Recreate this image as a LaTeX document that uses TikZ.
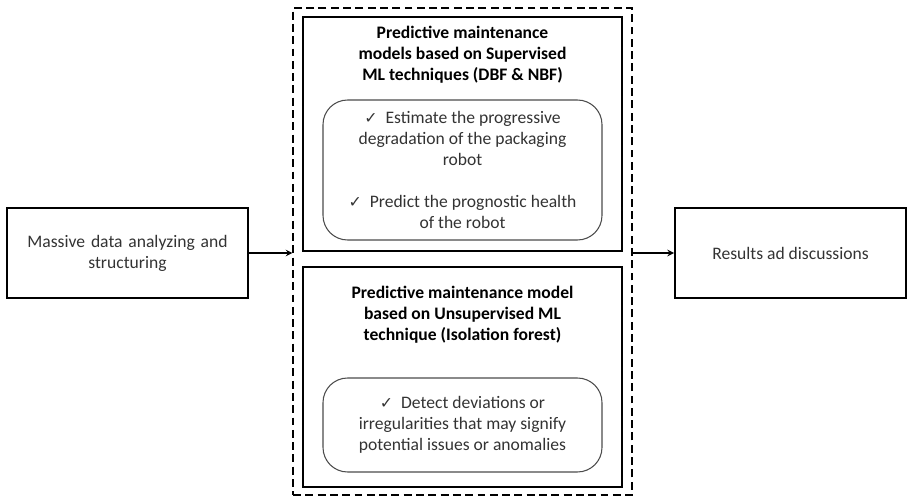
\documentclass[tikz,border=0pt]{standalone}
\usepackage{fontspec}
\setmainfont{Carlito}
\newfontfamily\simbolos{DejaVu Sans}
\usepackage{tikz}
\usetikzlibrary{positioning}
\newcommand{\visto}{{\simbolos\small ✓}}

\begin{document}
\begin{tikzpicture}[>=stealth]
\useasboundingbox (0,0) rectangle (18.18,9.92);
% Main boxes
\node (datos) [rectangle, draw, line width=1.1pt, text width=4.6cm, text centered, minimum width=4.82cm, minimum height=1.8cm, text=black!80] at (2.55,4.86)
    {Massive data analyzing and\\ structuring};

\node (resultados) [rectangle, draw, line width=1.1pt, text centered, minimum width=4.62cm, minimum height=1.8cm, text=black!80] at (15.81,4.86)
    {Results ad discussions};

% Dashed frame around the two model boxes
\node (marco) [rectangle, draw, dash pattern=on 4.5pt off 2.5pt, line width=0.6pt, minimum width=6.78cm, minimum height=9.74cm] at (9.25,4.89) {};

\node (supervisado) [rectangle, draw, line width=1.1pt, minimum width=6.38cm, minimum height=4.68cm] at (9.25,7.24) {};
\node (nosupervisado) [rectangle, draw, line width=1.1pt, minimum width=6.38cm, minimum height=4.4cm] at (9.25,2.38) {};

% Titles
\node (titulosup) [align=center, font=\bfseries] at (9.25,8.82)
    {Predictive maintenance\\ models based on Supervised\\ ML techniques (DBF \& NBF)};
\node (titulonosup) [align=center, font=\bfseries] at (9.25,3.62)
    {Predictive maintenance model\\ based on Unsupervised ML\\ technique (Isolation forest)};

% Rounded boxes with the tasks
\node (tareasup) [rectangle, draw, rounded corners=14pt, draw=black!70, line width=0.6pt, align=center, minimum width=5.58cm, minimum height=2.8cm, text=black!80] at (9.25,6.52)
    {\visto\ \ Estimate the progressive\\ degradation of the packaging\\ robot\\[12pt] \visto\ \ Predict the prognostic health\\ of the robot};
\node (tareanosup) [rectangle, draw, rounded corners=14pt, draw=black!70, line width=0.6pt, align=center, minimum width=5.58cm, minimum height=1.88cm, text=black!80] at (9.25,1.42)
    {\visto\ \ Detect deviations or\\ irregularities that may signify\\ potential issues or anomalies};

% Arrows in and out of the frame
\draw [->, line width=0.7pt] (datos.east) -- (datos.east -| marco.west);
\draw [->, line width=0.7pt] (marco.east |- resultados) -- (resultados.west);
\end{tikzpicture}
\end{document}
